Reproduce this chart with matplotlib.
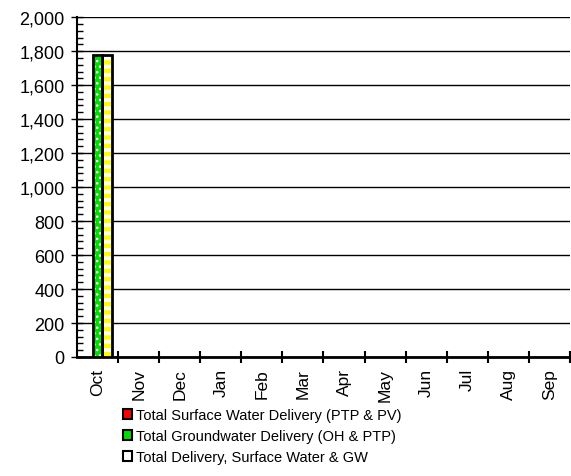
import numpy as np
import matplotlib.pyplot as plt
from matplotlib.patches import Patch
from matplotlib.ticker import FuncFormatter, MultipleLocator, FixedLocator

plt.rcParams['font.family'] = ['Liberation Sans', 'DejaVu Sans']

months = ['Oct', 'Nov', 'Dec', 'Jan', 'Feb', 'Mar', 'Apr', 'May', 'Jun', 'Jul', 'Aug', 'Sep']
surface = [0, 0, 0, 0, 0, 0, 0, 0, 0, 0, 0, 0]
ground = [1780, 0, 0, 0, 0, 0, 0, 0, 0, 0, 0, 0]
total = [1780, 0, 0, 0, 0, 0, 0, 0, 0, 0, 0, 0]
labels = ['Total Surface Water Delivery (PTP & PV)',
          'Total Groundwater Delivery (OH & PTP)',
          'Total Delivery, Surface Water & GW']

fig = plt.figure(figsize=(5.71, 4.77), dpi=100)
ax = fig.add_axes([0.135, 0.2495, 0.863, 0.7125])

x = np.arange(len(months))
w = 0.235
xs = [x - w, x, x + w]


def nz(vals):
    # zero bars are not drawn at all
    return [v if v > 0 else np.nan for v in vals]


# surface (red) bars
ax.bar(xs[0], nz(surface), w, color='#ff0000', edgecolor='black', linewidth=2, zorder=3)

# groundwater: green with white dots
plt.rcParams['hatch.linewidth'] = 1.0
ax.bar(xs[1], nz(ground), w, color='#00dd00', edgecolor='white', hatch='...', linewidth=0, zorder=3)
ax.bar(xs[1], nz(ground), w, fill=False, edgecolor='black', linewidth=2, zorder=4)

# total: white with yellow stripes
plt.rcParams['hatch.linewidth'] = 3.2
ax.bar(xs[2], nz(total), w, color='white', edgecolor='#ffff00', hatch='--', linewidth=0, zorder=3)
ax.bar(xs[2], nz(total), w, fill=False, edgecolor='black', linewidth=2, zorder=4)

ax.set_xlim(-0.5, len(months) - 0.5)
ax.set_ylim(0, 2000)
ax.yaxis.set_major_locator(MultipleLocator(200))
ax.yaxis.set_minor_locator(MultipleLocator(40))
ax.yaxis.set_major_formatter(FuncFormatter(lambda v, p: f'{int(v):,}'))
ax.grid(axis='y', color='black', linewidth=1, zorder=0)

ax.set_xticks(x)
ax.set_xticklabels(months, rotation=90)
ax.xaxis.set_minor_locator(FixedLocator(np.arange(len(months)) + 0.5))
ax.tick_params(axis='x', which='major', length=0, labelsize=12.5, pad=8)
ax.tick_params(axis='x', which='minor', direction='inout', length=8, width=1.5)
ax.tick_params(axis='y', which='major', direction='inout', length=8, width=1, labelsize=13, pad=5)
ax.tick_params(axis='y', which='minor', direction='in', length=4, width=1)

for s in ['top', 'right']:
    ax.spines[s].set_visible(False)
ax.spines['left'].set_linewidth(1.5)
ax.spines['bottom'].set_linewidth(2)

handles = [Patch(facecolor='#ff0000', edgecolor='black', linewidth=1.5),
           Patch(facecolor='#00dd00', edgecolor='black', linewidth=1.5),
           Patch(facecolor='white', edgecolor='black', linewidth=1.5)]
fig.legend(handles, labels, loc='upper left', bbox_to_anchor=(0.215, 0.143),
           frameon=False, fontsize=10.5, handlelength=0.65, handleheight=0.65,
           handletextpad=0.25, labelspacing=0.5, borderaxespad=0, borderpad=0)

fig.savefig('out.png', dpi=100)
